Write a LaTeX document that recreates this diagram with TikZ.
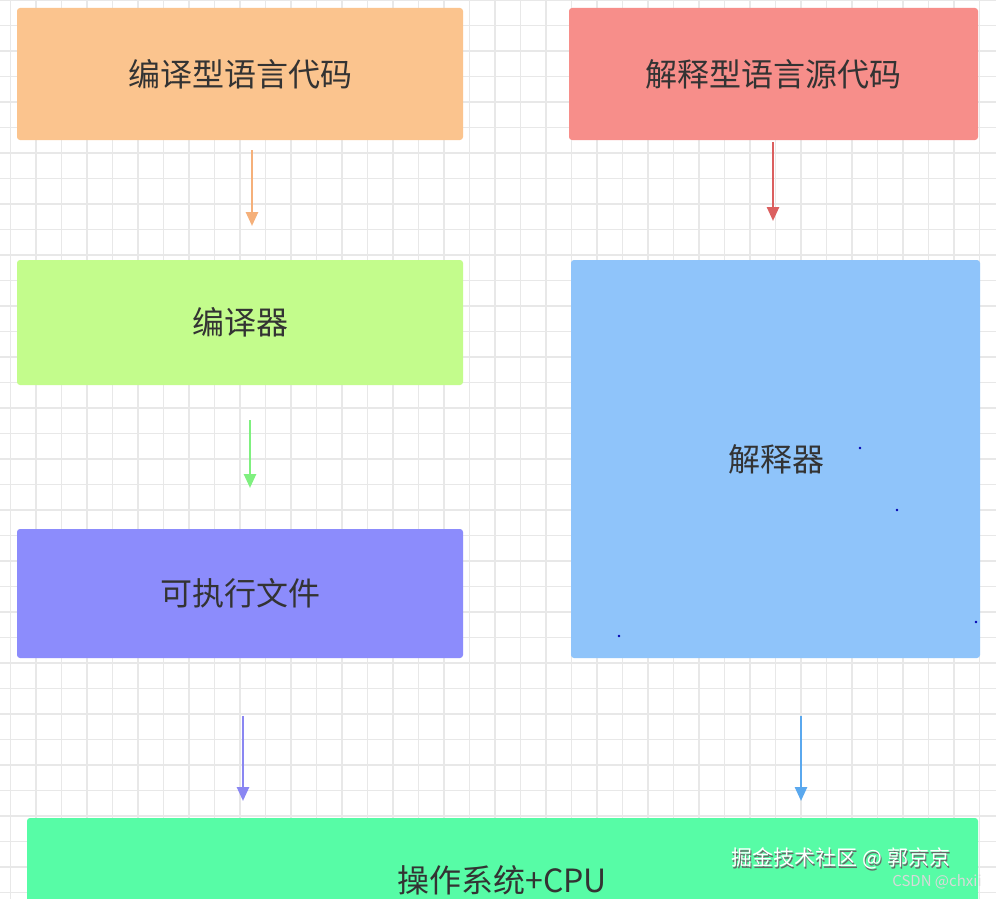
\documentclass[tikz,border=0pt]{standalone}
\usepackage{fontspec}
\newfontfamily\cjk{Noto Sans CJK SC}
\definecolor{cOr}{HTML}{FBC48E}
\definecolor{cRd}{HTML}{F78E8A}
\definecolor{cGr}{HTML}{C3FC8C}
\definecolor{cPu}{HTML}{8C8CFC}
\definecolor{cBl}{HTML}{8FC4FA}
\definecolor{cBt}{HTML}{57FCA6}
\definecolor{aOr}{HTML}{F5B07A}
\definecolor{aRd}{HTML}{DB5F5F}
\definecolor{aGr}{HTML}{7FF07F}
\definecolor{aPu}{HTML}{8A86F2}
\definecolor{aBl}{HTML}{5AA8EE}
\begin{document}
\begin{tikzpicture}[x=1pt,y=-1pt,
  boxst/.style={rounded corners=3pt,inner sep=0pt,font=\cjk\fontsize{32}{36}\selectfont,text=black!80},
  arr/.style={line width=2.5pt,-{Triangle[length=14pt,width=12pt]}}]
\usetikzlibrary{arrows.meta}
\clip (0,0) rectangle (996,899);
\fill[white] (0,0) rectangle (996,899);
\foreach \x in {10.5,36,61.5,...,996} \draw[black!9,line width=1.2pt] (\x,0) -- (\x,899);
\foreach \y in {0,25.5,...,899} \draw[black!9,line width=1.2pt] (0,\y) -- (996,\y);
\fill[cOr,rounded corners=3pt] (17,8) rectangle (463,140);
\node[boxst] (a) at (240,74) {编译型语言代码};
\fill[cRd,rounded corners=3pt] (569,8) rectangle (978,140);
\node[boxst] (b) at (773,74) {解释型语言源代码};
\fill[cGr,rounded corners=3pt] (17,260) rectangle (463,385);
\node[boxst] (c) at (240,322) {编译器};
\fill[cPu,rounded corners=3pt] (17,529) rectangle (463,658);
\node[boxst] (d) at (240,593) {可执行文件};
\fill[cBl,rounded corners=3pt] (571,260) rectangle (980,658);
\node[boxst] (e) at (776,459) {解释器};
\fill[cBt,rounded corners=3pt] (27,818) rectangle (978,920);
\node[boxst] (f) at (502,880) {操作系统+CPU};
\foreach \p in {(860,448),(897,510),(619,636),(976,622)} \fill[blue!70!black] \p circle (1.3pt);
\coordinate (a1) at (252,150); \coordinate (a2) at (252,226);
\coordinate (b1) at (773,142); \coordinate (b2) at (773,221);
\coordinate (c1) at (250,420); \coordinate (c2) at (250,488);
\coordinate (d1) at (243,716); \coordinate (d2) at (243,801);
\coordinate (e1) at (801,716); \coordinate (e2) at (801,801);
\draw[arr,aOr] (a1) -- (a2);
\draw[arr,aRd] (b1) -- (b2);
\draw[arr,aGr] (c1) -- (c2);
\draw[arr,aPu] (d1) -- (d2);
\draw[arr,aBl] (e1) -- (e2);
\node[font=\cjk\fontsize{21}{24}\selectfont,text=black!60] at (842,860) {掘金技术社区 @ 郭京京};
\node[font=\cjk\fontsize{21}{24}\selectfont,text=white] (w) at (841,858.5) {掘金技术社区 @ 郭京京};
\node[font=\cjk\fontsize{15}{18}\selectfont,text=white!85!black] (w2) at (937,882) {CSDN @chxii};
\end{tikzpicture}
\end{document}
